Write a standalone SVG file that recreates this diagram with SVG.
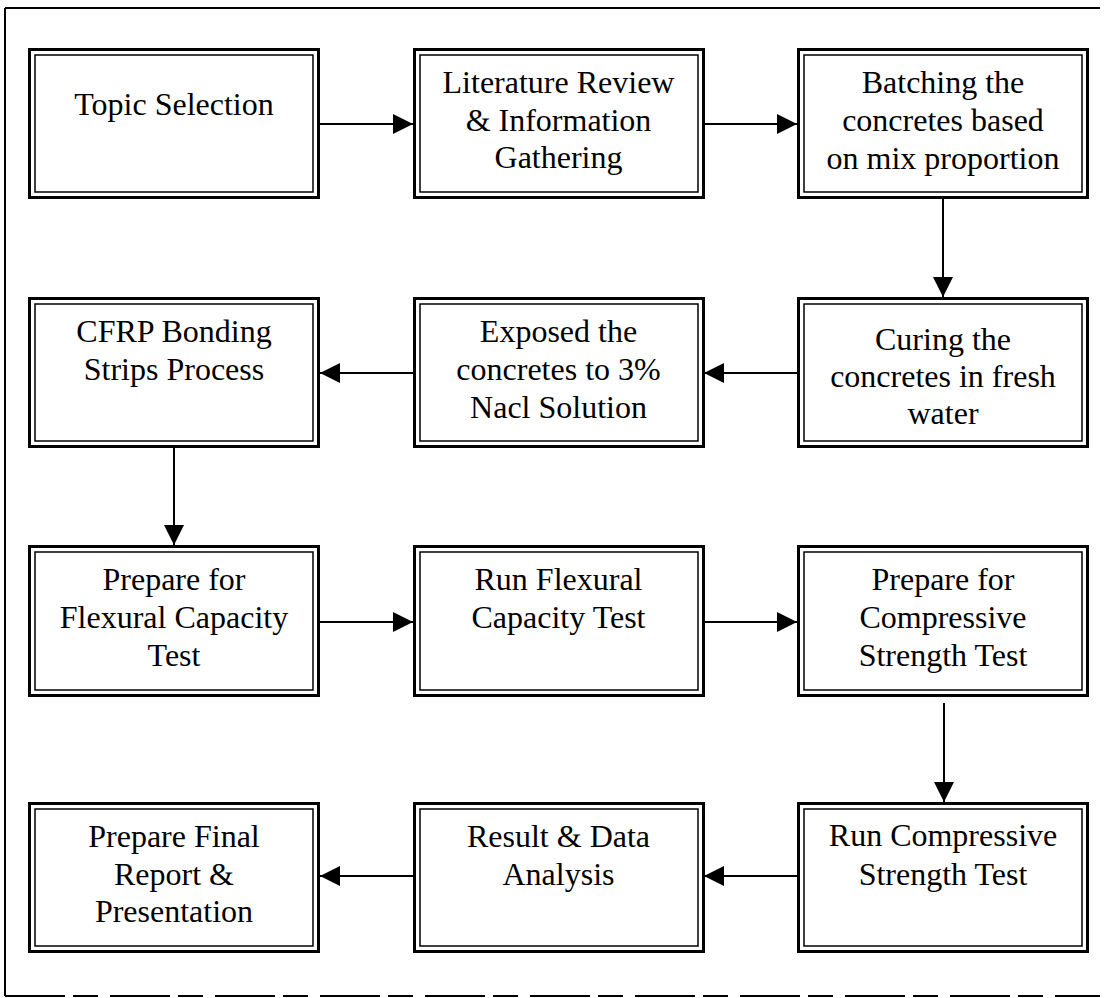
<svg xmlns="http://www.w3.org/2000/svg" width="1105" height="998" viewBox="0 0 1105 998">
<style>
.o{fill:#fff;stroke:#000;stroke-width:3}
.i{fill:none;stroke:#000;stroke-width:1.5}
.t{font-family:"Liberation Serif","Times New Roman",serif;font-size:32px;fill:#000;text-anchor:middle}
.c{stroke:#000;stroke-width:2;fill:none;marker-end:url(#ah)}
.f{stroke:#000;stroke-width:2;fill:none}
</style>
<defs>
<marker id="ah" markerUnits="userSpaceOnUse" markerWidth="20" markerHeight="20" refX="20" refY="10" orient="auto">
<path d="M0,0 L20,10 L0,20 z" fill="#000"/>
</marker>
</defs>
<rect width="1105" height="998" fill="#fff"/>
<g id="frame">
<line class="f" x1="5" y1="8" x2="1100" y2="8"/>
<line class="f" x1="5" y1="8" x2="5" y2="996"/>
<line class="f" x1="5" y1="996" x2="1100" y2="996" stroke-dasharray="60 8 25 12"/>
</g>
<g id="connectors">
<line class="c" x1="320" y1="124" x2="413" y2="124"/>
<line class="c" x1="704" y1="124" x2="797" y2="124"/>
<line class="c" x1="943" y1="199" x2="943" y2="297"/>
<line class="c" x1="798" y1="373" x2="704" y2="373"/>
<line class="c" x1="413" y1="373" x2="320" y2="373"/>
<line class="c" x1="174" y1="448" x2="174" y2="545"/>
<line class="c" x1="320" y1="622" x2="413" y2="622"/>
<line class="c" x1="704" y1="622" x2="797" y2="622"/>
<line class="c" x1="944" y1="703" x2="944" y2="802"/>
<line class="c" x1="797" y1="876" x2="704" y2="876"/>
<line class="c" x1="413" y1="876" x2="320" y2="876"/>
</g>
<g id="n1"><rect class="o" x="29.5" y="49.5" width="289" height="148"/><rect class="i" x="35" y="55" width="278" height="137"/>
<text class="t" x="174" y="115">Topic Selection</text></g>
<g id="n2"><rect class="o" x="414.5" y="49.5" width="289" height="148"/><rect class="i" x="420" y="55" width="278" height="137"/>
<text class="t" x="558.5" y="93">Literature Review</text><text class="t" x="558.5" y="130.5">&amp; Information</text><text class="t" x="558.5" y="168">Gathering</text></g>
<g id="n3"><rect class="o" x="798.5" y="49.5" width="289" height="148"/><rect class="i" x="804" y="55" width="278" height="137"/>
<text class="t" x="943" y="93">Batching the</text><text class="t" x="943" y="131">concretes based</text><text class="t" x="943" y="169">on mix proportion</text></g>
<g id="n4"><rect class="o" x="798.5" y="298.5" width="289" height="148"/><rect class="i" x="804" y="304" width="278" height="137"/>
<text class="t" x="943" y="350">Curing the</text><text class="t" x="943" y="387">concretes in fresh</text><text class="t" x="943" y="424">water</text></g>
<g id="n5"><rect class="o" x="414.5" y="298.5" width="289" height="148"/><rect class="i" x="420" y="304" width="278" height="137"/>
<text class="t" x="558.5" y="342">Exposed the</text><text class="t" x="558.5" y="380">concretes to 3%</text><text class="t" x="558.5" y="418">Nacl Solution</text></g>
<g id="n6"><rect class="o" x="29.5" y="298.5" width="289" height="148"/><rect class="i" x="35" y="304" width="278" height="137"/>
<text class="t" x="174" y="342">CFRP Bonding</text><text class="t" x="174" y="380">Strips Process</text></g>
<g id="n7"><rect class="o" x="29.5" y="546.5" width="289" height="149"/><rect class="i" x="35" y="552" width="278" height="138"/>
<text class="t" x="174" y="590">Prepare for</text><text class="t" x="174" y="628">Flexural Capacity</text><text class="t" x="174" y="666">Test</text></g>
<g id="n8"><rect class="o" x="414.5" y="546.5" width="289" height="149"/><rect class="i" x="420" y="552" width="278" height="138"/>
<text class="t" x="558.5" y="590">Run Flexural</text><text class="t" x="558.5" y="628">Capacity Test</text></g>
<g id="n9"><rect class="o" x="798.5" y="546.5" width="289" height="149"/><rect class="i" x="804" y="552" width="278" height="138"/>
<text class="t" x="943" y="590">Prepare for</text><text class="t" x="943" y="628">Compressive</text><text class="t" x="943" y="666">Strength Test</text></g>
<g id="n10"><rect class="o" x="798.5" y="803.5" width="289" height="148"/><rect class="i" x="804" y="809" width="278" height="137"/>
<text class="t" x="943" y="846">Run Compressive</text><text class="t" x="943" y="885">Strength Test</text></g>
<g id="n11"><rect class="o" x="414.5" y="803.5" width="289" height="148"/><rect class="i" x="420" y="809" width="278" height="137"/>
<text class="t" x="558.5" y="847">Result &amp; Data</text><text class="t" x="558.5" y="885">Analysis</text></g>
<g id="n12"><rect class="o" x="29.5" y="803.5" width="289" height="148"/><rect class="i" x="35" y="809" width="278" height="137"/>
<text class="t" x="174" y="847">Prepare Final</text><text class="t" x="174" y="885">Report &amp;</text><text class="t" x="174" y="922">Presentation</text></g>
</svg>
